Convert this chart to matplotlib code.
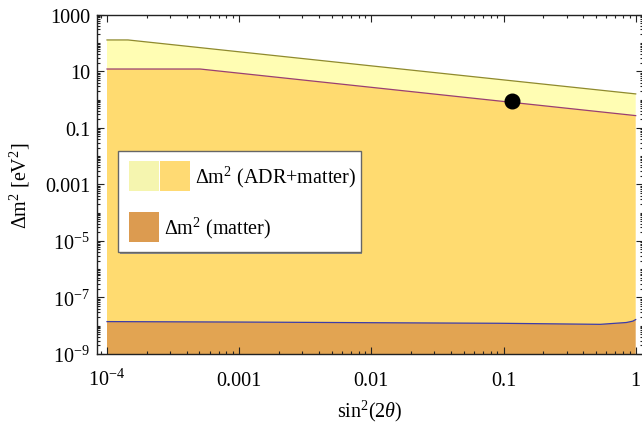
import matplotlib
matplotlib.use('Agg')
import matplotlib.pyplot as plt
import numpy as np
from matplotlib.patches import Rectangle
from matplotlib.ticker import FixedLocator, NullFormatter

plt.rcParams['font.family'] = ['Liberation Serif', 'DejaVu Serif']
plt.rcParams['mathtext.fontset'] = 'custom'
plt.rcParams['mathtext.rm'] = 'Liberation Serif'
plt.rcParams['mathtext.it'] = 'Liberation Serif:italic'
plt.rcParams['mathtext.bf'] = 'Liberation Serif:bold'

# ---------------- data ----------------
# upper boundary (ADR + matter)
upper_s = [1e-4, 1.44e-4, 1e-3, 1e-2, 1e-1, 1.0]
upper_m = [128, 128, 48.7, 15.5, 4.95, 1.58]
# middle boundary
mid_s = [1e-4, 5.06e-4, 1e-3, 1e-2, 1e-1, 1.0]
mid_m = [12.0, 12.0, 8.54, 2.7, 0.854, 0.27]
# lower boundary (matter)
low_s = [1e-4, 1e-3, 1e-2, 0.094, 0.54, 0.85, 0.95, 1.0]
low_m = [1.4e-8, 1.35e-8, 1.28e-8, 1.22e-8, 1.12e-8, 1.3e-8, 1.45e-8, 1.65e-8]
# best-fit point
point_s = [0.115]
point_m = [0.91]

xtick_vals = [1e-4, 1e-3, 1e-2, 1e-1, 1.0]
xtick_labels = [r'$10^{-4}$', '0.001', '0.01', '0.1', '1']
ytick_vals = [1e3, 1e1, 1e-1, 1e-3, 1e-5, 1e-7, 1e-9]
ytick_labels = ['1000', '10', '0.1', '0.001', r'$10^{-5}$', r'$10^{-7}$', r'$10^{-9}$']

legend_labels = [r'$\Delta$m$^2$ (ADR+matter)', r'$\Delta$m$^2$ (matter)']

# ---------------- colours ----------------
c_light = '#FFFDB3'
c_mid = '#FFDB70'
c_low = '#E2A452'
c_line_up = '#8F8A2E'
c_line_mid = '#9A3F72'
c_line_low = '#3C3CA8'

FS = 14.5
W, H = 642, 427
fig = plt.figure(figsize=(W / 100, H / 100), dpi=100)
L, R, T, B = 97, 643.0, 15.7, 355.0
ax = fig.add_axes([L / W, 1 - B / H, (R - L) / W, (B - T) / H])
ax.set_xscale('log')
ax.set_yscale('log')

ybot = 1e-11
# fills
ax.fill(np.concatenate([upper_s, mid_s[::-1]]), np.concatenate([upper_m, mid_m[::-1]]),
        color=c_light, lw=0, zorder=1)
ax.fill(np.concatenate([mid_s, low_s[::-1]]), np.concatenate([mid_m, low_m[::-1]]),
        color=c_mid, lw=0, zorder=1)
ax.fill(np.concatenate([[low_s[0]], low_s, [low_s[-1]]]),
        np.concatenate([[ybot], low_m, [ybot]]),
        color=c_low, lw=0, zorder=1)
# boundary lines
ax.plot(upper_s, upper_m, color=c_line_up, lw=0.9, zorder=2)
ax.plot(mid_s, mid_m, color=c_line_mid, lw=0.9, zorder=2)
ax.plot(low_s, low_m, color=c_line_low, lw=0.9, zorder=2)
# point
ax.plot(point_s, point_m, 'o', color='black', ms=10.5, zorder=3)

ax.set_xlim(10 ** (-4 - 10 / 132.2), 10 ** (7.3 / 132.2))
ax.set_ylim(1e-9, 1e3)

# ticks
ax.xaxis.set_major_locator(FixedLocator(xtick_vals))
ax.set_xticklabels(xtick_labels)
xminor = [k * 10.0 ** d for d in range(-5, 1) for k in range(2, 10)]
ax.xaxis.set_minor_locator(FixedLocator(xminor))
ax.xaxis.set_minor_formatter(NullFormatter())

ax.yaxis.set_major_locator(FixedLocator(ytick_vals))
ax.set_yticklabels(ytick_labels)
yminor = [k * 10.0 ** d for d in range(-10, 4) for k in range(1, 10)
          if not (k == 1 and (d % 2 == 1))]
ax.yaxis.set_minor_locator(FixedLocator(yminor))
ax.yaxis.set_minor_formatter(NullFormatter())

ax.tick_params(which='both', direction='in', top=True, right=True, width=0.8, color='#222222')
ax.tick_params(which='major', length=5)
ax.tick_params(which='minor', length=2.5)
ax.tick_params(axis='y', which='major', labelsize=FS, pad=5)
ax.tick_params(axis='x', which='major', labelsize=FS, pad=22)
for lab in ax.get_xticklabels():
    lab.set_va('baseline')

for sp in ax.spines.values():
    sp.set_linewidth(1.0)
    sp.set_color('#222222')

ax.set_xlabel(r'sin$^2$(2$\theta$)', fontsize=FS)
ax.xaxis.set_label_coords(0.5, -0.13)
ax.set_ylabel(r'$\Delta$m$^2$ [eV$^2$]', fontsize=FS)
ax.yaxis.set_label_coords((32 - L) / (R - L), 0.5)

# ---------------- legend (drawn manually) ----------------
def fx(x):
    return x / W

def fy(y):
    return 1 - y / H

tf = fig.transFigure
shadow = Rectangle((fx(119.5), fy(254.5)), fx(361 - 118), (253 - 152) / H, transform=tf,
                   facecolor='#888888', edgecolor='none', zorder=5)
fig.patches.append(shadow)
box = Rectangle((fx(118), fy(253)), fx(361 - 118), (253 - 152) / H, transform=tf,
                facecolor='white', edgecolor='#666666', lw=1.0, zorder=6)
fig.patches.append(box)
sw = [(129, 162), (160, 162), (129, 213)]
legend_sw_colors = ['#F5F5AF', '#FFDA73', '#DC9B50']
for (x0, y0), col in zip(sw, legend_sw_colors):
    fig.patches.append(Rectangle((fx(x0), fy(y0 + 30)), fx(30), 30 / H, transform=tf,
                                 facecolor=col, edgecolor='none', zorder=7))
fig.text(fx(195), fy(177), legend_labels[0], fontsize=FS, va='center', ha='left', zorder=8)
fig.text(fx(164), fy(228), legend_labels[1], fontsize=FS, va='center', ha='left', zorder=8)

fig.savefig('out.png', dpi=100)
